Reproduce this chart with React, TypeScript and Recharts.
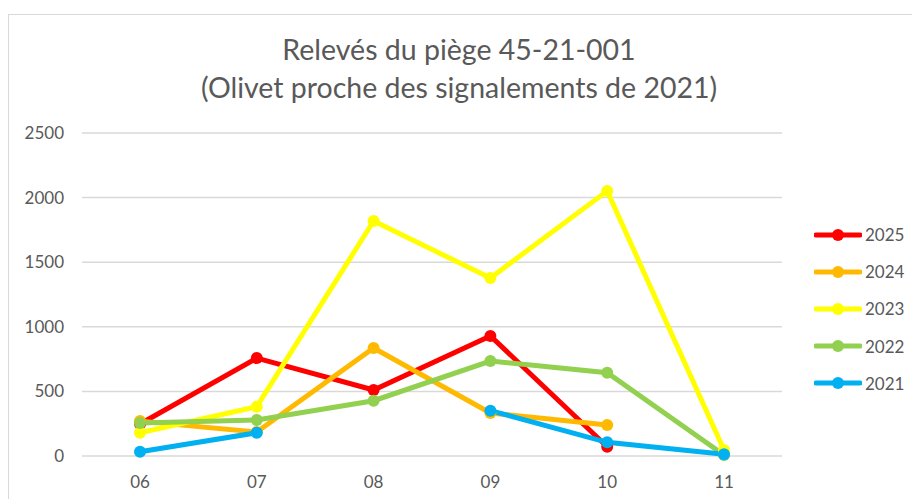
import React from 'react';
import { LineChart, Line, XAxis, YAxis, CartesianGrid } from 'recharts';

const months = ['06', '07', '08', '09', '10', '11'];
const s2025 = [248, 758, 511, 929, 72, null];
const s2024 = [270, 186, 836, 333, 240, null];
const s2023 = [180, 382, 1819, 1378, 2051, 46];
const s2022 = [255, 279, 428, 735, 645, 8];
const s2021 = [33, 180, null, 351, 106, 13];
const yTicks = [0, 500, 1000, 1500, 2000, 2500];

const seriesList = [
  { key: '2025', values: s2025, color: '#ff0000' },
  { key: '2024', values: s2024, color: '#ffb900' },
  { key: '2023', values: s2023, color: '#ffff00' },
  { key: '2022', values: s2022, color: '#92d050' },
  { key: '2021', values: s2021, color: '#00b0f0' },
];

const data = months.map((m, i) => {
  const row: any = { month: m };
  seriesList.forEach((s) => {
    row[s.key] = s.values[i];
  });
  return row;
});

const FONT = 'Lato, "Open Sans", sans-serif';
const TEXT = '#595959';

const LegendBox = () => (
  <div style={{ position: 'absolute', left: 814, top: 216, fontFamily: FONT }}>
    {seriesList.map((s) => (
      <div key={s.key} style={{ display: 'flex', alignItems: 'center', height: 37.2 }}>
        <svg width={48} height={14} style={{ display: 'block' }}>
          <line x1={2} y1={7} x2={46} y2={7} stroke={s.color} strokeWidth={5} strokeLinecap="round" />
          <circle cx={24} cy={7} r={6} fill={s.color} />
        </svg>
        <span style={{ fontSize: 17, color: TEXT, marginLeft: 3 }}>{s.key}</span>
      </div>
    ))}
  </div>
);

export default function App() {
  return (
    <div style={{ position: 'absolute', left: 0, top: 0, width: 912, height: 499, overflow: 'hidden', background: '#fff' }}>
      <div style={{ position: 'absolute', left: 8, top: 14, width: 920, height: 520, border: '1px solid #d9d9d9', boxSizing: 'border-box' }} />
      <div style={{ position: 'absolute', left: 0, width: 918, top: 30, textAlign: 'center', fontFamily: FONT, color: TEXT, fontSize: 28.5, lineHeight: '38px' }}>
        <div>Relevés du piège 45-21-001</div>
        <div>(Olivet proche des signalements de 2021)</div>
      </div>
      <LineChart width={912} height={499} data={data} margin={{ top: 133, right: 130, bottom: 13, left: 8 }} style={{ position: 'absolute', left: 0, top: 0 }}>
        <CartesianGrid horizontal vertical={false} stroke="#d9d9d9" strokeWidth={1.5} />
        <XAxis dataKey="month" axisLine={false} tickLine={false} height={30} padding={{ left: 58, right: 58 }} tick={{ fill: TEXT, fontSize: 17, fontFamily: FONT }} tickMargin={14} />
        <YAxis domain={[0, 2500]} ticks={yTicks} axisLine={false} tickLine={false} width={74} tick={{ fill: TEXT, fontSize: 17, fontFamily: FONT }} tickMargin={12} />
        {seriesList.map((s) => (
          <Line key={s.key} type="linear" dataKey={s.key} stroke={s.color} strokeWidth={5} dot={{ r: 6, fill: s.color, stroke: s.color, strokeWidth: 0 }} activeDot={false} isAnimationActive={false} connectNulls={false} />
        ))}
      </LineChart>
      <LegendBox />
    </div>
  );
}
